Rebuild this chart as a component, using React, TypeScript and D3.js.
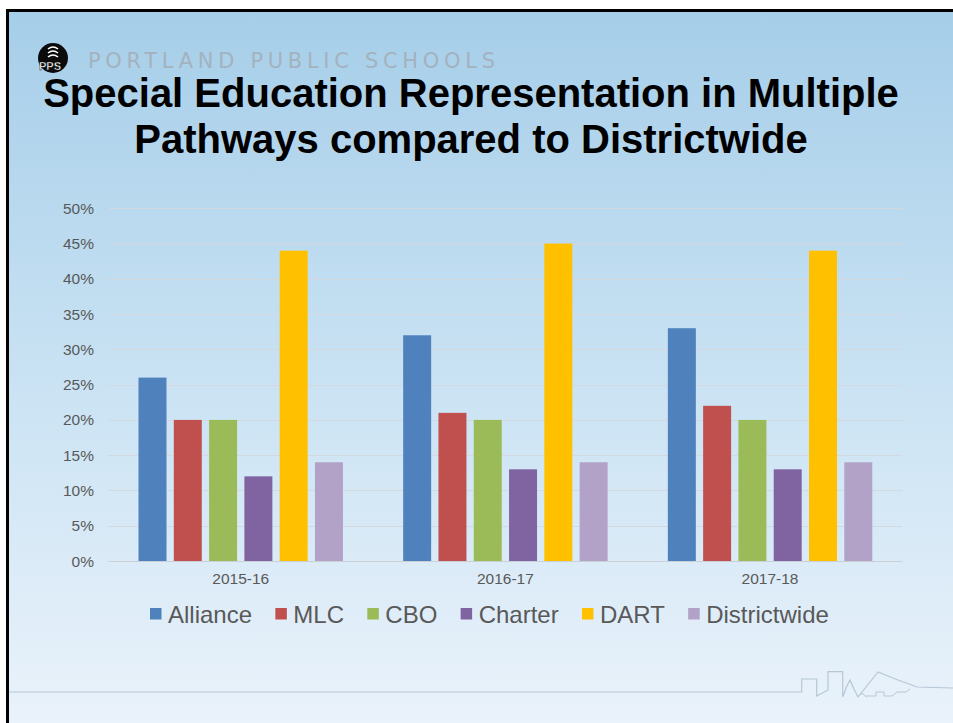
import { useEffect, useRef } from 'react';
import * as d3 from 'd3';

const categories = ['2015-16', '2016-17', '2017-18'];
const seriesNames = ['Alliance', 'MLC', 'CBO', 'Charter', 'DART', 'Districtwide'];
const seriesColors = ['#4f81bd', '#c0504d', '#9bbb59', '#8064a2', '#ffc000', '#b2a2c7'];

const alliance = [26, 32, 33];
const mlc = [20, 21, 22];
const cbo = [20, 20, 20];
const charter = [12, 13, 13];
const dart = [44, 45, 44];
const districtwide = [14, 14, 14];

const yTicks = [0, 5, 10, 15, 20, 25, 30, 35, 40, 45, 50];

const titleLines = ['Special Education Representation in Multiple', 'Pathways compared to Districtwide'];

const W = 953;
const H = 723;
const FONT = 'Arial, "Liberation Sans", sans-serif';

export default function App() {
  const svgRef = useRef<SVGSVGElement>(null);

  useEffect(() => {
    if (!svgRef.current) return;
    const svg = d3.select(svgRef.current);
    svg.selectAll('*').remove();

    const values = [alliance, mlc, cbo, charter, dart, districtwide];
    const rows = categories.map((c, i) => ({
      category: c,
      items: seriesNames.map((s, j) => ({ name: s, value: values[j][i], color: seriesColors[j] })),
    }));

    // background
    const defs = svg.append('defs');
    const bg = defs.append('linearGradient')
      .attr('id', 'bg-grad')
      .attr('x1', '0%').attr('y1', '0%')
      .attr('x2', '0%').attr('y2', '100%');
    bg.append('stop').attr('offset', '0%').attr('stop-color', '#a6cee9');
    bg.append('stop').attr('offset', '50%').attr('stop-color', '#c9e2f3');
    bg.append('stop').attr('offset', '100%').attr('stop-color', '#ebf3fb');

    svg.append('rect').attr('width', W).attr('height', H).attr('fill', '#ffffff');
    svg.append('rect')
      .attr('x', 6).attr('y', 9)
      .attr('width', W).attr('height', H)
      .attr('fill', '#000');
    svg.append('rect')
      .attr('x', 9).attr('y', 12)
      .attr('width', W).attr('height', H)
      .attr('fill', 'url(#bg-grad)');

    // bottom skyline decoration
    svg.append('path')
      .attr('d', 'M9,692 H801.7 V679 H816.7 V696 L828,690 V671.7 H842.7 V697 L846,688 L850,680 L854,689 L858,697 L878,672 L898,680 L917,687 L953,688')
      .attr('fill', 'none')
      .attr('stroke', '#b6c7d5')
      .attr('stroke-width', 1.2);
    svg.append('path')
      .attr('d', 'M858,697 Q862,690 866,697 M866,696 H876 V692 H884 V696 H892 L897,692 H906 L910,689')
      .attr('fill', 'none')
      .attr('stroke', '#b6c7d5')
      .attr('stroke-width', 1);

    // header logo + school name
    const logo = svg.append('g').attr('transform', 'translate(53,58)');
    logo.append('circle').attr('r', 15).attr('fill', '#0b0b0b');
    [-9, -5, -1].forEach(dy => {
      logo.append('path')
        .attr('d', `M-5,${dy} Q0,${dy - 4} 5,${dy} `)
        .attr('fill', 'none')
        .attr('stroke', '#fff')
        .attr('stroke-width', 1.6);
    });
    logo.append('text')
      .attr('x', -3).attr('y', 12)
      .attr('text-anchor', 'middle')
      .attr('font-family', FONT)
      .attr('font-weight', 'bold')
      .attr('font-size', 11)
      .attr('fill', '#fff')
      .attr('stroke', '#000')
      .attr('stroke-width', 0.4)
      .text('PPS');

    svg.append('text')
      .attr('x', 88).attr('y', 68)
      .attr('font-family', '"DejaVu Sans", "Open Sans", sans-serif')
      .attr('font-size', 21)
      .attr('fill', '#a4b2be')
      .attr('textLength', 407)
      .attr('lengthAdjust', 'spacing')
      .text('PORTLAND PUBLIC SCHOOLS');

    // title
    titleLines.forEach((line, i) => {
      svg.append('text')
        .attr('x', 471)
        .attr('y', 107 + i * 46)
        .attr('text-anchor', 'middle')
        .attr('font-family', FONT)
        .attr('font-weight', 'bold')
        .attr('font-size', 40)
        .attr('fill', '#000')
        .text(line);
    });

    // scales
    const x0 = d3.scaleBand<string>()
      .domain(categories)
      .range([108.4, 902.4])
      .padding(0);

    const x1 = d3.scaleBand<string>()
      .domain(seriesNames)
      .range([0, x0.bandwidth()])
      .paddingInner(0.207)
      .paddingOuter(0.853);

    const y = d3.scaleLinear()
      .domain([0, 50])
      .range([561, 208.3]);

    // gridlines
    const g = svg.append('g');
    g.selectAll('.grid')
      .data(yTicks)
      .enter()
      .append('line')
      .attr('x1', 108.4)
      .attr('x2', 902.4)
      .attr('y1', d => Math.round(y(d)) + 0.5)
      .attr('y2', d => Math.round(y(d)) + 0.5)
      .attr('stroke', d => (d === 0 ? '#c9d0d6' : '#d3d9de'))
      .attr('stroke-width', 1);

    // y labels
    g.selectAll('.ylab')
      .data(yTicks)
      .enter()
      .append('text')
      .attr('x', 94)
      .attr('y', d => y(d) + 5.5)
      .attr('text-anchor', 'end')
      .attr('font-family', FONT)
      .attr('font-size', 15.5)
      .attr('fill', '#595959')
      .text(d => `${d}%`);

    // bars
    const groups = g.selectAll('.cat')
      .data(rows)
      .enter()
      .append('g')
      .attr('transform', d => `translate(${x0(d.category)},0)`);

    groups.selectAll('rect')
      .data(d => d.items)
      .enter()
      .append('rect')
      .attr('x', d => x1(d.name) || 0)
      .attr('y', d => y(d.value))
      .attr('width', x1.bandwidth())
      .attr('height', d => y(0) - y(d.value))
      .attr('fill', d => d.color);

    // x labels
    g.selectAll('.xlab')
      .data(categories)
      .enter()
      .append('text')
      .attr('x', d => (x0(d) || 0) + x0.bandwidth() / 2)
      .attr('y', 584)
      .attr('text-anchor', 'middle')
      .attr('font-family', FONT)
      .attr('font-size', 15.5)
      .attr('fill', '#595959')
      .text(d => d);

    // legend
    const legend = svg.append('g');
    let lx = 150;
    seriesNames.forEach((name, i) => {
      legend.append('rect')
        .attr('x', lx)
        .attr('y', 608)
        .attr('width', 11.5)
        .attr('height', 11.5)
        .attr('fill', seriesColors[i]);
      const t = legend.append('text')
        .attr('x', lx + 18)
        .attr('y', 622.5)
        .attr('font-family', FONT)
        .attr('font-size', 24)
        .attr('fill', '#595959')
        .text(name);
      const w = (t.node() as SVGTextElement).getComputedTextLength();
      lx = lx + 18 + w + 23.3;
    });
  }, []);

  return (
    <svg
      ref={svgRef}
      width={W}
      height={H}
      style={{ position: 'absolute', left: 0, top: 0, display: 'block' }}
    ></svg>
  );
}
